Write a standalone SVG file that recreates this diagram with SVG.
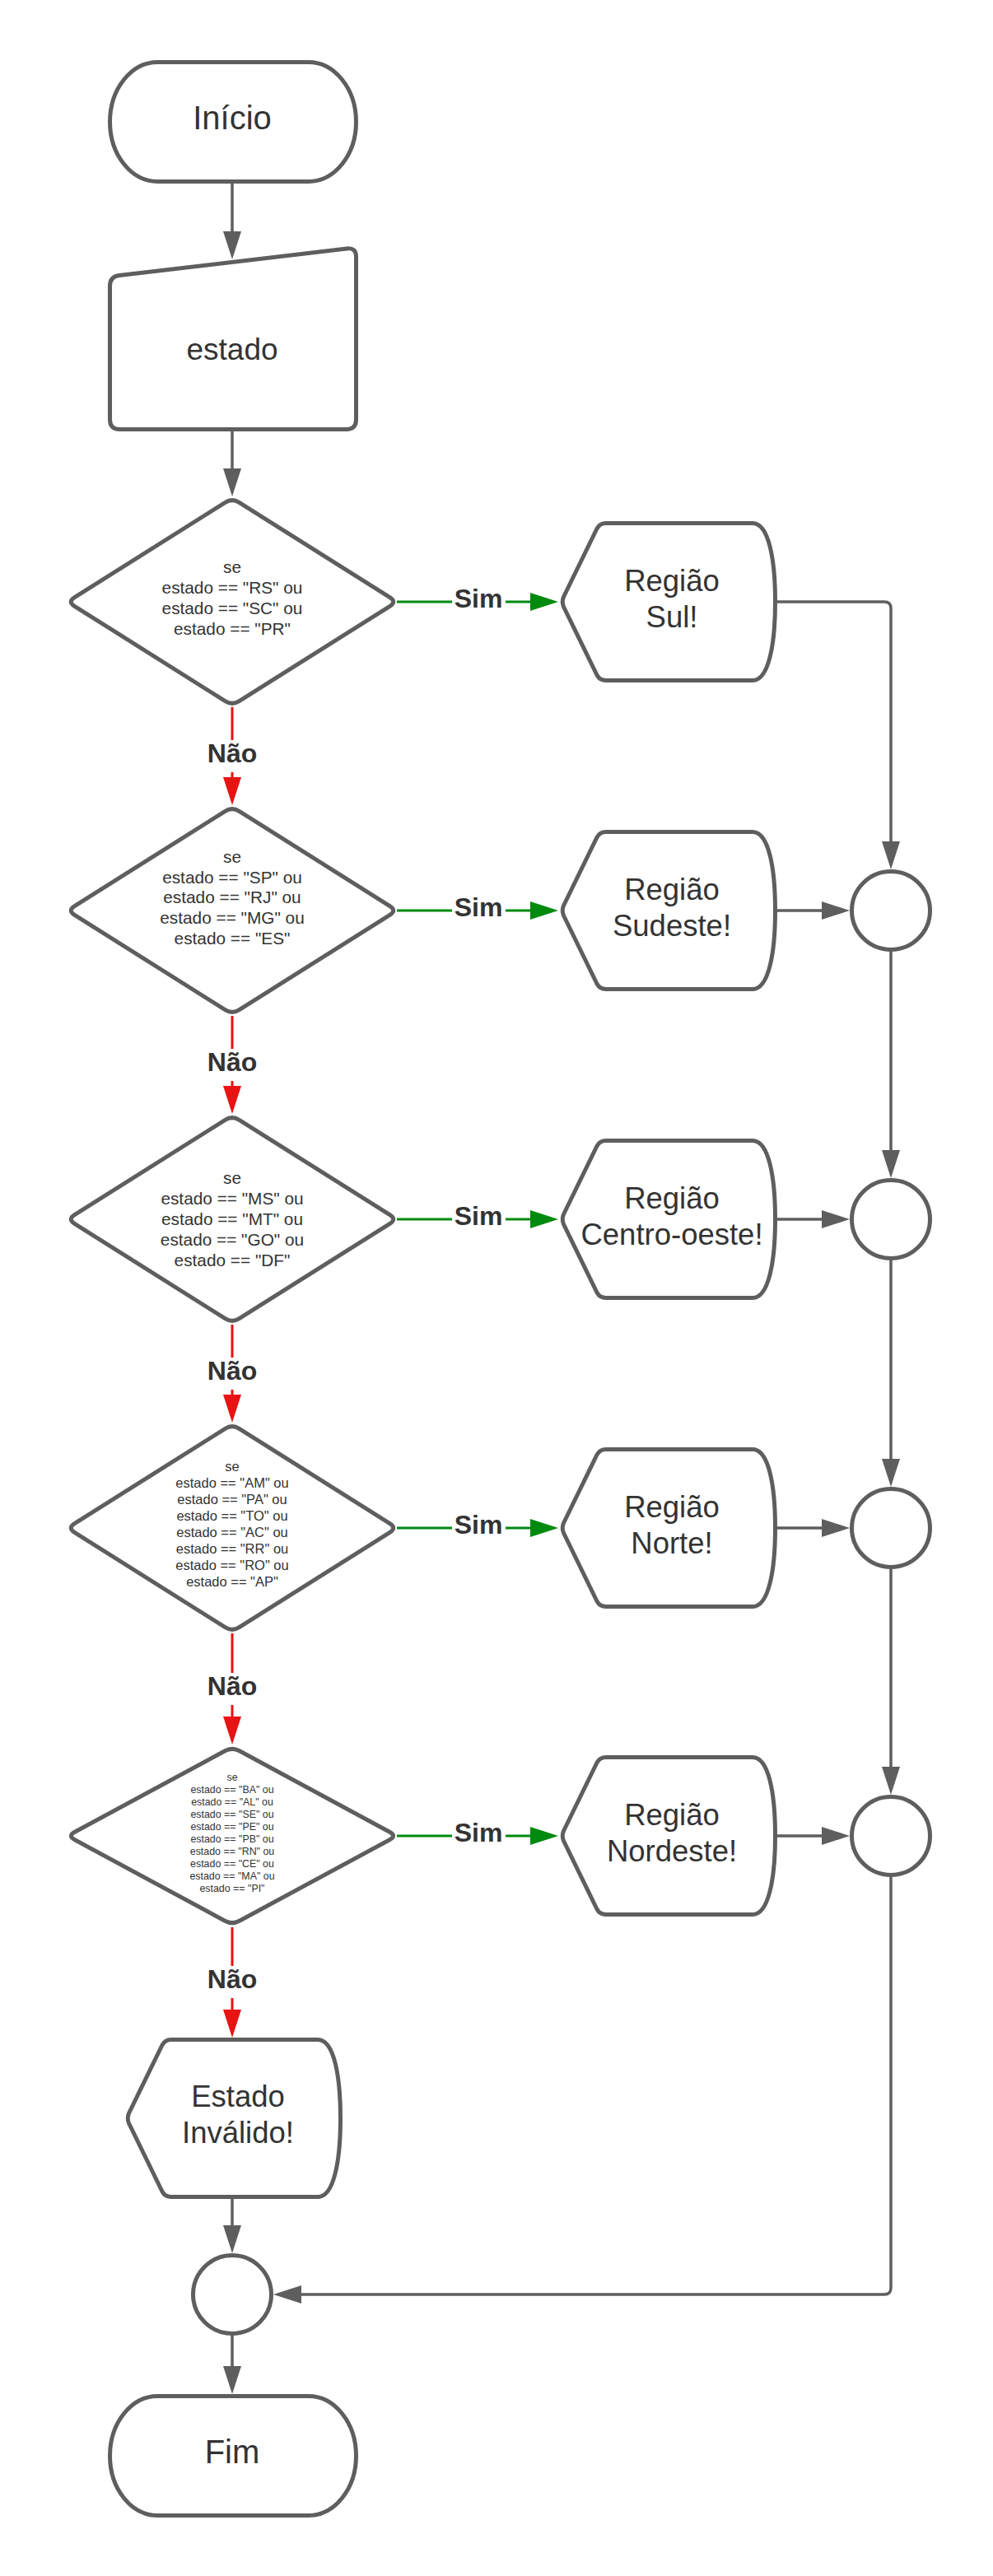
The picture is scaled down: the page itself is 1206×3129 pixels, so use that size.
<svg xmlns="http://www.w3.org/2000/svg" width="1206" height="3129" viewBox="0 0 1206 3129">
<style>
.sh{fill:#fff;stroke:#5e5e5e;stroke-width:5;stroke-linejoin:round}
.t{font-family:"Liberation Sans",Arial,sans-serif;fill:#333;text-anchor:middle}
.big{font-size:37px}
.term{font-size:40px}
.reg{font-size:36.5px}
.d1{font-size:20.8px}
.d4{font-size:16.5px}
.d5{font-size:12.4px}
.lbl{font-family:"Liberation Sans",Arial,sans-serif;font-weight:bold;font-size:32px;fill:#333;text-anchor:middle}
.cg{fill:none;stroke:#5e5e5e;stroke-width:3.5}
.cgr{fill:none;stroke:#008a0e;stroke-width:3}
.cr{fill:none;stroke:#e81313;stroke-width:3}
.bg{fill:#fff}
</style>
<defs>
<marker id="ag" viewBox="0 0 34 22" refX="24" refY="11" markerWidth="34" markerHeight="22" markerUnits="userSpaceOnUse" orient="auto"><path d="M0,0 L34,11 L0,22 Z" fill="#5e5e5e"/></marker>
<marker id="agr" viewBox="0 0 34 22" refX="24" refY="11" markerWidth="34" markerHeight="22" markerUnits="userSpaceOnUse" orient="auto"><path d="M0,0 L34,11 L0,22 Z" fill="#008a0e"/></marker>
<marker id="ar" viewBox="0 0 34 22" refX="24" refY="11" markerWidth="34" markerHeight="22" markerUnits="userSpaceOnUse" orient="auto"><path d="M0,0 L34,11 L0,22 Z" fill="#e81313"/></marker>
</defs>
<rect width="1206" height="3129" fill="#fff"/>

<g id="connectors">
<path class="cg" d="M282,223 V305" marker-end="url(#ag)"/>
<path class="cg" d="M282,524 V593" marker-end="url(#ag)"/>
<path class="cgr" d="M482,731 H668" marker-end="url(#agr)"/>
<path class="cgr" d="M482,1106 H668" marker-end="url(#agr)"/>
<path class="cgr" d="M482,1481 H668" marker-end="url(#agr)"/>
<path class="cgr" d="M482,1856 H668" marker-end="url(#agr)"/>
<path class="cgr" d="M482,2230 H668" marker-end="url(#agr)"/>
<path class="cr" d="M282,859 V968" marker-end="url(#ar)"/>
<path class="cr" d="M282,1234 V1343" marker-end="url(#ar)"/>
<path class="cr" d="M282,1609 V1718" marker-end="url(#ar)"/>
<path class="cr" d="M282,1984 V2109" marker-end="url(#ar)"/>
<path class="cr" d="M282,2341 V2465" marker-end="url(#ar)"/>
<path class="cg" d="M944,731 H1074 Q1082,731 1082,739 V1046" marker-end="url(#ag)"/>
<path class="cg" d="M944,1106 H1022" marker-end="url(#ag)"/>
<path class="cg" d="M1082,1156 V1421" marker-end="url(#ag)"/>
<path class="cg" d="M944,1481 H1022" marker-end="url(#ag)"/>
<path class="cg" d="M1082,1531 V1796" marker-end="url(#ag)"/>
<path class="cg" d="M944,1856 H1022" marker-end="url(#ag)"/>
<path class="cg" d="M1082,1906 V2170" marker-end="url(#ag)"/>
<path class="cg" d="M944,2230 H1022" marker-end="url(#ag)"/>
<path class="cg" d="M1082,2280 V2779 Q1082,2787 1074,2787 H342" marker-end="url(#ag)"/>
<path class="cg" d="M282,2671 V2727" marker-end="url(#ag)"/>
<path class="cg" d="M282,2837 V2898" marker-end="url(#ag)"/>
<g id="labels">
<rect class="bg" x="549" y="711" width="65" height="40"/><text class="lbl" x="581" y="738">Sim</text>
<rect class="bg" x="549" y="1086" width="65" height="40"/><text class="lbl" x="581" y="1113">Sim</text>
<rect class="bg" x="549" y="1461" width="65" height="40"/><text class="lbl" x="581" y="1488">Sim</text>
<rect class="bg" x="549" y="1836" width="65" height="40"/><text class="lbl" x="581" y="1863">Sim</text>
<rect class="bg" x="549" y="2210" width="65" height="40"/><text class="lbl" x="581" y="2237">Sim</text>
<rect class="bg" x="249" y="899" width="66" height="39"/><text class="lbl" x="282" y="926">Não</text>
<rect class="bg" x="249" y="1274" width="66" height="39"/><text class="lbl" x="282" y="1301">Não</text>
<rect class="bg" x="249" y="1649" width="66" height="39"/><text class="lbl" x="282" y="1676">Não</text>
<rect class="bg" x="249" y="2032" width="66" height="39"/><text class="lbl" x="282" y="2059">Não</text>
<rect class="bg" x="249" y="2388" width="66" height="39"/><text class="lbl" x="282" y="2415">Não</text>
</g>
</g>

<g id="inicio">
<rect class="sh" x="133.5" y="75.5" width="299" height="145" rx="58" ry="72.5"/>
<text class="t term" x="282" y="157">Início</text>
</g>

<g id="entrada-estado">
<path class="sh" d="M133.5,347 Q133.5,336 145,334.5 L421,302 Q432.5,300.5 432.5,312 L432.5,509.5 Q432.5,521.5 420.5,521.5 L145.5,521.5 Q133.5,521.5 133.5,509.5 Z"/>
<text class="t big" x="282" y="437">estado</text>
</g>

<g id="decisao-sul">
<path class="sh" transform="translate(282,731)" d="M-8.5,-120.7 Q0,-126 8.5,-120.7 L191.5,-5.3 Q200,0 191.5,5.3 L8.5,120.7 Q0,126 -8.5,120.7 L-191.5,5.3 Q-200,0 -191.5,-5.3 Z"/>
<text class="t d1"><tspan x="282" y="696">se</tspan><tspan x="282" y="721">estado == "RS" ou</tspan><tspan x="282" y="746">estado == "SC" ou</tspan><tspan x="282" y="771">estado == "PR"</tspan></text>
</g>

<g id="decisao-sudeste">
<path class="sh" transform="translate(282,1106)" d="M-8.5,-120.7 Q0,-126 8.5,-120.7 L191.5,-5.3 Q200,0 191.5,5.3 L8.5,120.7 Q0,126 -8.5,120.7 L-191.5,5.3 Q-200,0 -191.5,-5.3 Z"/>
<text class="t d1"><tspan x="282" y="1048">se</tspan><tspan x="282" y="1073">estado == "SP" ou</tspan><tspan x="282" y="1097">estado == "RJ" ou</tspan><tspan x="282" y="1122">estado == "MG" ou</tspan><tspan x="282" y="1147">estado == "ES"</tspan></text>
</g>

<g id="decisao-centro-oeste">
<path class="sh" transform="translate(282,1481)" d="M-8.5,-120.7 Q0,-126 8.5,-120.7 L191.5,-5.3 Q200,0 191.5,5.3 L8.5,120.7 Q0,126 -8.5,120.7 L-191.5,5.3 Q-200,0 -191.5,-5.3 Z"/>
<text class="t d1"><tspan x="282" y="1438">se</tspan><tspan x="282" y="1463">estado == "MS" ou</tspan><tspan x="282" y="1488">estado == "MT" ou</tspan><tspan x="282" y="1513">estado == "GO" ou</tspan><tspan x="282" y="1538">estado == "DF"</tspan></text>
</g>

<g id="decisao-norte">
<path class="sh" transform="translate(282,1856)" d="M-8.5,-120.7 Q0,-126 8.5,-120.7 L191.5,-5.3 Q200,0 191.5,5.3 L8.5,120.7 Q0,126 -8.5,120.7 L-191.5,5.3 Q-200,0 -191.5,-5.3 Z"/>
<text class="t d4"><tspan x="282" y="1786.5">se</tspan><tspan x="282" y="1806.5">estado == "AM" ou</tspan><tspan x="282" y="1826.5">estado == "PA" ou</tspan><tspan x="282" y="1846.5">estado == "TO" ou</tspan><tspan x="282" y="1866.5">estado == "AC" ou</tspan><tspan x="282" y="1886.5">estado == "RR" ou</tspan><tspan x="282" y="1906.5">estado == "RO" ou</tspan><tspan x="282" y="1926.5">estado == "AP"</tspan></text>
</g>

<g id="decisao-nordeste">
<path class="sh" transform="translate(282,2230)" d="M-8.8,-103.25 Q0,-108 8.8,-103.25 L191.2,-4.75 Q200,0 191.2,4.75 L8.8,103.25 Q0,108 -8.8,103.25 L-191.2,4.75 Q-200,0 -191.2,-4.75 Z"/>
<text class="t d5"><tspan x="282" y="2163">se</tspan><tspan x="282" y="2178">estado == "BA" ou</tspan><tspan x="282" y="2193">estado == "AL" ou</tspan><tspan x="282" y="2208">estado == "SE" ou</tspan><tspan x="282" y="2223">estado == "PE" ou</tspan><tspan x="282" y="2238">estado == "PB" ou</tspan><tspan x="282" y="2253">estado == "RN" ou</tspan><tspan x="282" y="2268">estado == "CE" ou</tspan><tspan x="282" y="2283">estado == "MA" ou</tspan><tspan x="282" y="2298">estado == "PI"</tspan></text>
</g>

<g id="regiao-sul">
<path class="sh" transform="translate(0,731)" d="M684.5,-6 L725,-89 Q728.5,-95.5 736,-95.5 L914,-95.5 C934,-95.5 941.5,-50 941.5,0 C941.5,50 934,95.5 914,95.5 L736,95.5 Q728.5,95.5 725,89 L684.5,6 Q682,0 684.5,-6 Z"/>
<text class="t reg"><tspan x="816" y="718">Região</tspan><tspan x="816" y="762">Sul!</tspan></text>
</g>

<g id="regiao-sudeste">
<path class="sh" transform="translate(0,1106)" d="M684.5,-6 L725,-89 Q728.5,-95.5 736,-95.5 L914,-95.5 C934,-95.5 941.5,-50 941.5,0 C941.5,50 934,95.5 914,95.5 L736,95.5 Q728.5,95.5 725,89 L684.5,6 Q682,0 684.5,-6 Z"/>
<text class="t reg"><tspan x="816" y="1093">Região</tspan><tspan x="816" y="1137">Sudeste!</tspan></text>
</g>

<g id="regiao-centro-oeste">
<path class="sh" transform="translate(0,1481)" d="M684.5,-6 L725,-89 Q728.5,-95.5 736,-95.5 L914,-95.5 C934,-95.5 941.5,-50 941.5,0 C941.5,50 934,95.5 914,95.5 L736,95.5 Q728.5,95.5 725,89 L684.5,6 Q682,0 684.5,-6 Z"/>
<text class="t reg"><tspan x="816" y="1468">Região</tspan><tspan x="816" y="1512">Centro-oeste!</tspan></text>
</g>

<g id="regiao-norte">
<path class="sh" transform="translate(0,1856)" d="M684.5,-6 L725,-89 Q728.5,-95.5 736,-95.5 L914,-95.5 C934,-95.5 941.5,-50 941.5,0 C941.5,50 934,95.5 914,95.5 L736,95.5 Q728.5,95.5 725,89 L684.5,6 Q682,0 684.5,-6 Z"/>
<text class="t reg"><tspan x="816" y="1843">Região</tspan><tspan x="816" y="1887">Norte!</tspan></text>
</g>

<g id="regiao-nordeste">
<path class="sh" transform="translate(0,2230)" d="M684.5,-6 L725,-89 Q728.5,-95.5 736,-95.5 L914,-95.5 C934,-95.5 941.5,-50 941.5,0 C941.5,50 934,95.5 914,95.5 L736,95.5 Q728.5,95.5 725,89 L684.5,6 Q682,0 684.5,-6 Z"/>
<text class="t reg"><tspan x="816" y="2217">Região</tspan><tspan x="816" y="2261">Nordeste!</tspan></text>
</g>

<g id="estado-invalido">
<path class="sh" transform="translate(-528,2573)" d="M684.5,-6 L725,-89 Q728.5,-95.5 736,-95.5 L914,-95.5 C934,-95.5 941.5,-50 941.5,0 C941.5,50 934,95.5 914,95.5 L736,95.5 Q728.5,95.5 725,89 L684.5,6 Q682,0 684.5,-6 Z"/>
<text class="t reg"><tspan x="289" y="2559">Estado</tspan><tspan x="289" y="2603">Inválido!</tspan></text>
</g>

<g id="juncao-1"><circle class="sh" cx="1082" cy="1106" r="47.5"/></g>
<g id="juncao-2"><circle class="sh" cx="1082" cy="1481" r="47.5"/></g>
<g id="juncao-3"><circle class="sh" cx="1082" cy="1856" r="47.5"/></g>
<g id="juncao-4"><circle class="sh" cx="1082" cy="2230" r="47.5"/></g>
<g id="juncao-final"><circle class="sh" cx="282" cy="2787" r="47.5"/></g>

<g id="fim">
<rect class="sh" x="133.5" y="2910.5" width="299" height="145" rx="58" ry="72.5"/>
<text class="t term" x="282" y="2992">Fim</text>
</g>
</svg>
